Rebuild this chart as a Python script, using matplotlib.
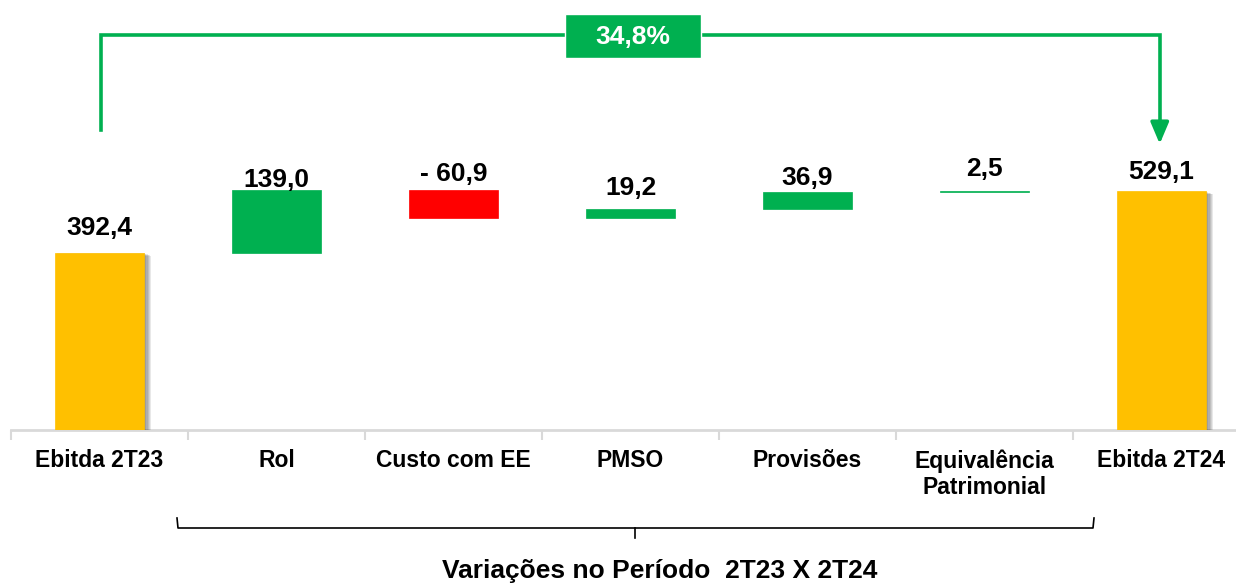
import matplotlib
matplotlib.use("Agg")
import matplotlib.pyplot as plt
import matplotlib.patheffects as pe
from matplotlib.patches import Rectangle

plt.rcParams['font.family'] = ['Liberation Sans', 'DejaVu Sans']
plt.rcParams['font.weight'] = 'bold'

# Ebitda bridge 2T23 -> 2T24 (R$ milhões)
categorias = ['Ebitda 2T23', 'Rol', 'Custo com EE', 'PMSO', 'Provisões',
              'Equivalência\nPatrimonial', 'Ebitda 2T24']
valores = [392.4, 139.0, -60.9, 19.2, 36.9, 2.5, 529.1]
rotulos = ['392,4', '139,0', '- 60,9', '19,2', '36,9', '2,5', '529,1']
variacao = '34,8%'
titulo_eixo = 'Variações no Período  2T23 X 2T24'

VERDE = '#00B050'
VERMELHO = '#FF0000'
LARANJA = '#FFC000'

# distance (pt) between bar top and its label baseline
label_gap = [13, 2.5, 7, 10, 5, 11, 9]

fig = plt.figure(figsize=(12.36, 5.86), dpi=100)
W, H = 1236, 586
ax = fig.add_axes([11 / W, 156 / H, 1239 / W, 430 / H])
ax.set_xlim(-0.5, 6.5)
ax.set_ylim(0, 953)

shadow = [pe.SimplePatchShadow(offset=(k * 0.9, -k * 0.35), shadow_rgbFace='black',
                               alpha=0.09) for k in range(1, 7)] + [pe.Normal()]

acum = 0
for i, v in enumerate(valores):
    if i == 0 or i == len(valores) - 1:
        base, topo, cor = 0, v, LARANJA
        acum = v
    else:
        base = acum
        acum = acum + v
        topo = max(base, acum)
        base = min(base, acum)
        cor = VERDE if v > 0 else VERMELHO
    bar = ax.bar(i, topo - base, bottom=base, width=0.5, color=cor,
                 edgecolor=cor, linewidth=0.5, zorder=3)
    if cor == LARANJA:
        bar[0].set_path_effects(shadow)
    ax.annotate(rotulos[i], (i, topo), xytext=(0, label_gap[i]),
                textcoords='offset points', ha='center', va='baseline',
                fontsize=19, fontweight='bold', color='black')

# axis styling
for s in ['top', 'right', 'left']:
    ax.spines[s].set_visible(False)
ax.spines['bottom'].set_color('#D9D9D9')
ax.spines['bottom'].set_linewidth(2)
ax.set_yticks([])
ax.set_xticks([x - 0.5 for x in range(8)])
ax.set_xticklabels([])
ax.tick_params(axis='x', which='major', length=7, width=1.5, color='#D9D9D9')
ax.set_xticks(range(len(categorias)), minor=True)
ax.set_xticklabels(categorias, minor=True, fontsize=16.5, fontweight='bold',
                   linespacing=1.15, va='top')
ax.tick_params(axis='x', which='minor', length=0, pad=14)

# growth bracket from first to last Ebitda bar
ax.plot([0.01, 0.01, 5.99, 5.99], [665, 876, 876, 670], color=VERDE, lw=2.6,
        solid_joinstyle='miter', clip_on=False, zorder=4)
ax.annotate('', xy=(5.99, 634), xytext=(5.99, 672),
            arrowprops=dict(arrowstyle='-|>,head_width=0.55,head_length=1.3',
                            color=VERDE, lw=2.6, shrinkA=0, shrinkB=0))

# overlay in pixel coordinates for the badge and the lower brace
ov = fig.add_axes([0, 0, 1, 1], facecolor='none')
ov.set_xlim(0, W)
ov.set_ylim(H, 0)
ov.axis('off')
ov.add_patch(Rectangle((565, 14), 136, 44, facecolor=VERDE, edgecolor='white', lw=1))
ov.text(633, 37, variacao, ha='center', va='center', color='white',
        fontsize=19, fontweight='bold')

ov.plot([177, 178, 1093, 1094], [518, 528, 528, 518], color='black', lw=1.2)
ov.plot([635, 635], [528, 538], color='black', lw=1.2)
ov.text(660, 578, titulo_eixo, ha='center', va='baseline', fontsize=19,
        fontweight='bold')

fig.savefig('out.png', dpi=100)
